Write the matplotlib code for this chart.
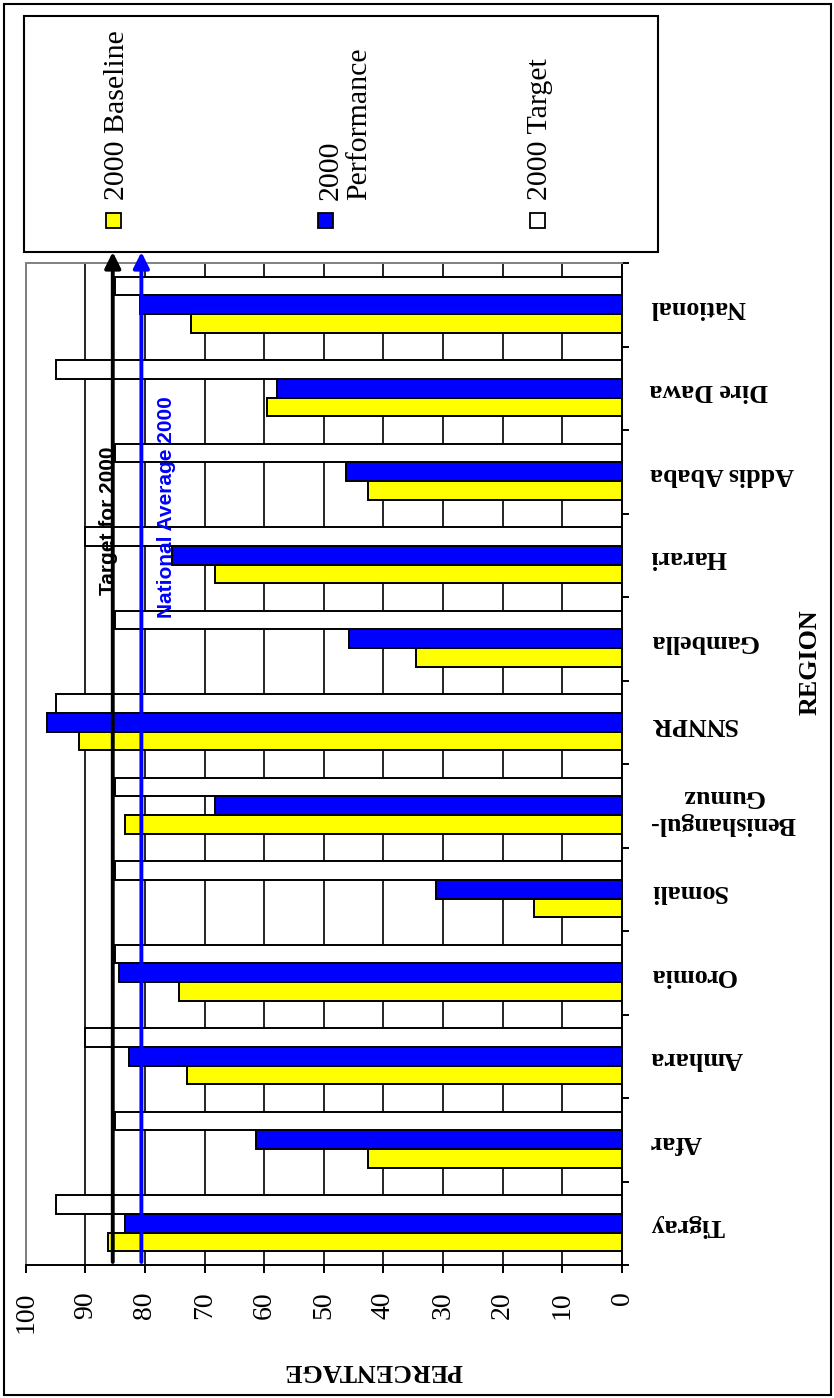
"""Regional performance chart, drawn rotated like the scanned original."""

import numpy as np
import matplotlib
matplotlib.use("Agg")
import matplotlib.pyplot as plt
from matplotlib.patches import Rectangle

regions = ["Tigray", "Afar", "Amhara", "Oromia", "Somali",
           "Benishangul-\nGumuz", "SNNPR", "Gambella", "Harari",
           "Addis Ababa", "Dire Dawa", "National"]
baseline = [86.2, 42.6, 72.9, 74.3, 14.8, 83.4, 91.0, 34.5, 68.3, 42.6, 59.6, 72.3]
performance = [83.4, 61.4, 82.6, 84.4, 31.2, 68.3, 96.5, 45.7, 75.4, 46.3, 57.8, 80.8]
target = [95, 85, 90, 85, 85, 85, 95, 85, 90, 85, 95, 85]
series_names = ["2000 Baseline", "2000\nPerformance", "2000 Target"]
target_line = 85.4
national_avg = 80.6
pct_ticks = list(range(0, 101, 10))

SERIF = "Liberation Serif"
SANS = "Liberation Sans"
W_PX, H_PX = 834, 1398
colors = ["#FFFF00", "#0000FF", "#FFFFFF"]


def fx(px):
    return px / W_PX


def fy(py):
    return 1 - py / H_PX


def main():
    fig = plt.figure(figsize=(W_PX / 100, H_PX / 100), dpi=100)
    left, right, top, bottom = 25.7, 622, 263, 1265
    ax = fig.add_axes([fx(left), fy(bottom), fx(right - left), (bottom - top) / H_PX])

    idx = np.arange(len(regions)) + 0.5
    w = 0.225
    for off, vals, col in zip((-w, 0, w), (baseline, performance, target), colors):
        ax.barh(idx + off, vals, height=w, color=col, edgecolor="black",
                linewidth=1.4, zorder=3)

    ax.set_xlim(100, 0)
    ax.set_ylim(0, len(regions))

    ax.set_xticks(pct_ticks)
    ax.set_xticklabels([str(t) for t in pct_ticks], rotation=90,
                       fontsize=20, family=SERIF)
    ax.tick_params(axis="x", direction="out", length=6, width=1.4, pad=13)
    ax.xaxis.grid(True, color="black", linewidth=1.2, zorder=0)
    ax.set_axisbelow(True)

    ax.yaxis.tick_right()
    ax.set_yticks(np.arange(len(regions) + 1))
    ax.set_yticklabels([])
    ax.set_yticks(idx, regions, minor=True, rotation=180, fontsize=18.7,
                  fontweight="bold", family=SERIF)
    for lab in ax.get_yticklabels(minor=True):
        lab.set_multialignment("center")
    ax.tick_params(axis="y", which="major", direction="out", length=5,
                   width=1.4, right=True, left=False, labelright=False)
    ax.tick_params(axis="y", which="minor", length=0, pad=20,
                   right=True, left=False, labelright=True, labelleft=False)

    for side in ("left", "top"):
        ax.spines[side].set_color("#808080")
        ax.spines[side].set_linewidth(1.4)
    for side in ("right", "bottom"):
        ax.spines[side].set_color("black")
        ax.spines[side].set_linewidth(1.4)

    # reference lines with arrows reaching up to the legend box
    for val, col in ((target_line, "black"), (national_avg, "#0000FF")):
        ax.annotate("", xy=(val, 1 + 11 / (bottom - top)),
                    xytext=(val, 3 / (bottom - top)),
                    xycoords=("data", "axes fraction"),
                    textcoords=("data", "axes fraction"),
                    arrowprops=dict(arrowstyle="-|>", color=col, lw=2.8,
                                    mutation_scale=24, shrinkA=0, shrinkB=0),
                    annotation_clip=False, zorder=6)

    fig.text(fx(109), fy(521), "Target for 2000", rotation=90, ha="center",
             va="center", fontsize=15, fontweight="bold", family=SANS,
             color="black", zorder=7)
    fig.text(fx(167), fy(507), "National Average 2000", rotation=90,
             ha="center", va="center", fontsize=15, fontweight="bold",
             family=SANS, color="#0000FF", zorder=7)

    fig.text(fx(373), fy(1371), "PERCENTAGE", rotation=180, ha="center",
             va="center", fontsize=18.7, fontweight="bold", family=SERIF)
    fig.text(fx(810), fy(662), "REGION", rotation=90, ha="center",
             va="center", fontsize=18.7, fontweight="bold", family=SERIF)

    # legend drawn by hand, rotated like the rest
    fig.add_artist(Rectangle((fx(24), fy(252)), fx(658 - 24), (252 - 16) / H_PX,
                             transform=fig.transFigure, fill=False,
                             edgecolor="black", linewidth=1.5))
    marker_x = [113.5, 325.5, 537]
    text_x = [117, 345, 540]
    for mx, tx, name, col in zip(marker_x, text_x, series_names, colors):
        fig.add_artist(Rectangle((fx(mx - 7.5), fy(227.5)), fx(15), 15 / H_PX,
                                 transform=fig.transFigure, facecolor=col,
                                 edgecolor="black", linewidth=1.3))
        fig.text(fx(tx), fy(200), name, rotation=90, ha="center", va="bottom",
                 multialignment="left", fontsize=21.5, family=SERIF,
                 linespacing=1.15)

    fig.add_artist(Rectangle((fx(4), fy(1395)), fx(827), 1391 / H_PX,
                             transform=fig.transFigure, fill=False,
                             edgecolor="black", linewidth=1.5))

    fig.savefig("out.png", dpi=100)
    plt.close(fig)


if __name__ == "__main__":
    main()
